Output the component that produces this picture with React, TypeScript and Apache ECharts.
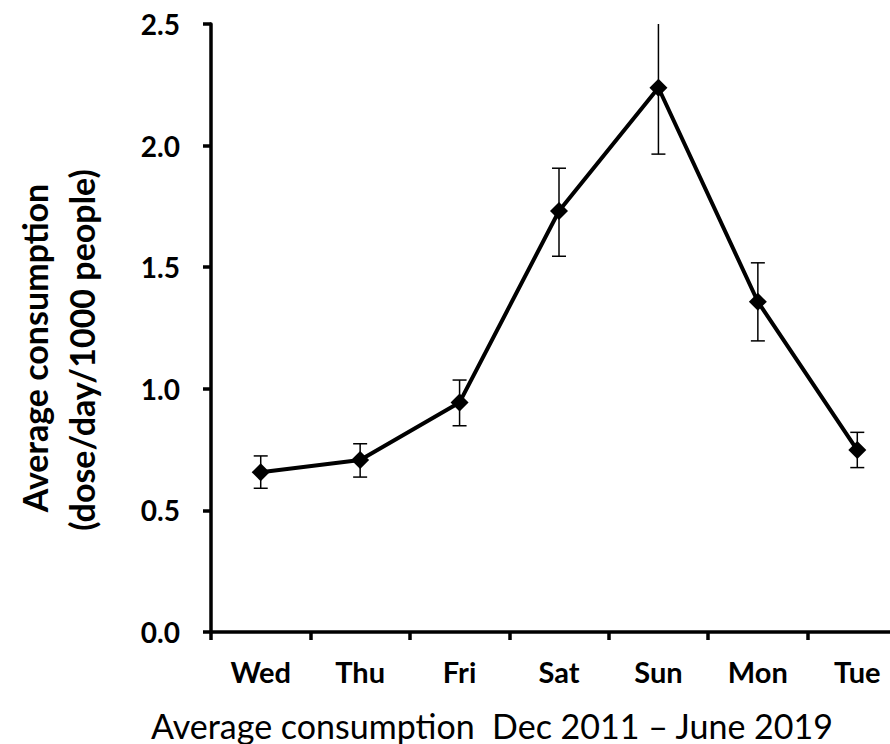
import { useEffect, useRef } from 'react'
import * as echarts from 'echarts'

const DAYS = ['Wed', 'Thu', 'Fri', 'Sat', 'Sun', 'Mon', 'Tue']
const MEANS = [0.657, 0.707, 0.944, 1.731, 2.238, 1.358, 0.748]
const LOWER = [0.591, 0.637, 0.848, 1.545, 1.965, 1.197, 0.676]
const UPPER = [0.724, 0.774, 1.036, 1.907, 2.51, 1.518, 0.821]
const Y_MAX = 2.5
const Y_TITLE = ['Average consumption', '(dose/day/1000 people)']
const X_TITLE = 'Average consumption  Dec 2011 \u2013 June 2019'

const FONT = 'Lato'

export default function App() {
  const ref = useRef<HTMLDivElement | null>(null)

  useEffect(() => {
    if (!ref.current) return
    const chart = echarts.init(ref.current, null, { renderer: 'svg' })

    const option: echarts.EChartsOption = {
      animation: false,
      backgroundColor: '#fff',
      grid: { left: 211, right: -17, top: 24, bottom: 112, containLabel: false, outerBoundsMode: 'none' } as any,
      xAxis: {
        type: 'category',
        data: DAYS,
        boundaryGap: true,
        axisLine: { lineStyle: { color: '#000', width: 3.5 } },
        axisTick: { show: true, alignWithLabel: false, length: 8, lineStyle: { color: '#000', width: 3.5 } },
        axisLabel: { color: '#000', fontFamily: FONT, fontWeight: 'bold', fontSize: 29, margin: 25 },
        splitLine: { show: false },
      },
      yAxis: {
        type: 'value',
        min: 0,
        max: Y_MAX,
        interval: 0.5,
        axisLine: { show: true, lineStyle: { color: '#000', width: 3.5 } },
        axisTick: { show: true, length: 8, lineStyle: { color: '#000', width: 3.5 } },
        axisLabel: {
          color: '#000',
          fontFamily: FONT,
          fontWeight: 'bold',
          fontSize: 28,
          margin: 31,
          formatter: (v: number) => v.toFixed(1),
        },
        splitLine: { show: false },
      },
      graphic: [
        {
          type: 'text',
          x: 34,
          y: 348,
          rotation: Math.PI / 2,
          style: {
            text: Y_TITLE[0],
            fill: '#000',
            font: `bold 34px ${FONT}`,
            textAlign: 'center',
            textVerticalAlign: 'middle',
          },
        },
        {
          type: 'text',
          x: 81,
          y: 350,
          rotation: Math.PI / 2,
          style: {
            text: Y_TITLE[1],
            fill: '#000',
            font: `bold 34px ${FONT}`,
            textAlign: 'center',
            textVerticalAlign: 'middle',
          },
        },
        {
          type: 'text',
          x: 492,
          y: 725,
          style: {
            text: X_TITLE,
            fill: '#000',
            font: `34px ${FONT}`,
            textAlign: 'center',
            textVerticalAlign: 'middle',
          },
        },
      ],
      series: [
        {
          type: 'custom',
          clip: true,
          z: 1,
          data: DAYS.map((_, i) => [i, LOWER[i], UPPER[i]]),
          encode: { x: 0, y: [1, 2] },
          renderItem: (_params: any, api: any) => {
            const i = api.value(0)
            const lo = api.value(1)
            const hi = api.value(2)
            const bottom = api.coord([i, lo])
            const top = api.coord([i, Math.min(hi, Y_MAX)])
            const cap = 7
            const style = { stroke: '#000', lineWidth: 1.5 }
            const children: any[] = [
              { type: 'line', shape: { x1: bottom[0], y1: bottom[1], x2: top[0], y2: top[1] }, style },
              { type: 'line', shape: { x1: bottom[0] - cap, y1: bottom[1], x2: bottom[0] + cap, y2: bottom[1] }, style },
            ]
            if (hi <= Y_MAX) {
              children.push({ type: 'line', shape: { x1: top[0] - cap, y1: top[1], x2: top[0] + cap, y2: top[1] }, style })
            }
            return { type: 'group', children }
          },
        },
        {
          type: 'line',
          z: 2,
          data: MEANS,
          symbol: 'diamond',
          symbolSize: 18,
          lineStyle: { color: '#000', width: 4 },
          itemStyle: { color: '#000' },
        },
      ],
    }

    chart.setOption(option)
    return () => {
      chart.dispose()
    }
  }, [])

  return <div ref={ref} style={{ position: 'fixed', left: 0, top: 0, width: 890, height: 744 }} />
}
